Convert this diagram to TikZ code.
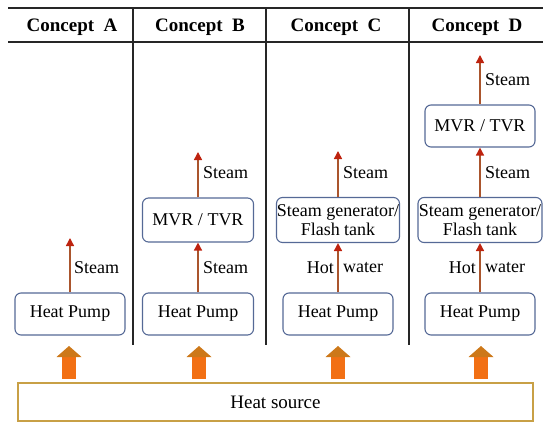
\documentclass[tikz,border=0pt]{standalone}
\usepackage{fontspec}
\setmainfont{Liberation Serif}
\usetikzlibrary{arrows.meta}
\definecolor{boxblue}{RGB}{85,105,150}
\definecolor{shaftbrown}{RGB}{170,85,45}
\definecolor{headred}{RGB}{190,35,15}
\definecolor{hsorange}{RGB}{242,112,20}
\definecolor{hshead}{RGB}{205,120,25}
\definecolor{gold}{RGB}{200,160,70}
\begin{document}
\begin{tikzpicture}[x=1pt,y=-1pt,
  unitbox/.style={draw=boxblue,line width=1.1pt,rounded corners=6pt,fill=white,
    align=center,font=\fontsize{18}{19}\selectfont,inner sep=0pt},
  flow/.style={draw=shaftbrown,line width=1.5pt,
    -{Triangle[width=8pt,length=8pt,fill=headred,color=headred]}},
  lbl/.style={font=\fontsize{18}{19}\selectfont,inner sep=0pt},
  hdr/.style={font=\fontsize{19}{21}\selectfont\bfseries,inner sep=0pt},
  grid/.style={draw=black!85,line width=1.2pt}]
\useasboundingbox (0,0) rectangle (550,424);
% table lines
\coordinate (tl) at (8,8);
\coordinate (tr) at (543,8);
\coordinate (hl) at (8,42);
\coordinate (hr) at (543,42);
\draw[grid] (tl) -- (tr);
\draw[grid] (hl) -- (hr);
\coordinate (v1t) at (133,8); \coordinate (v1b) at (133,345);
\coordinate (v2t) at (266,8); \coordinate (v2b) at (266,345);
\coordinate (v3t) at (409,8); \coordinate (v3b) at (409,345);
\draw[grid] (v1t) -- (v1b);
\draw[grid] (v2t) -- (v2b);
\draw[grid] (v3t) -- (v3b);
% headers
\node[hdr] (hA) at (72,27) {Concept\ \ A};
\node[hdr] (hB) at (200,27) {Concept\ \ B};
\node[hdr] (hC) at (336,27) {Concept\ \ C};
\node[hdr] (hD) at (477,27) {Concept\ \ D};
% boxes
\node[unitbox,minimum width=110pt,minimum height=42pt] (hpA) at (70,314) {Heat Pump};
\node[unitbox,minimum width=111pt,minimum height=42pt] (hpB) at (198,314) {Heat Pump};
\node[unitbox,minimum width=110pt,minimum height=42pt] (hpC) at (338,314) {Heat Pump};
\node[unitbox,minimum width=110pt,minimum height=42pt] (hpD) at (480,314) {Heat Pump};
\node[unitbox,minimum width=111pt,minimum height=44pt] (mvrB) at (198,220) {MVR / TVR};
\node[unitbox,minimum width=123pt,minimum height=45pt,font=\fontsize{18}{19}\selectfont] (sgC) at (338,220) {Steam generator/\\Flash tank};
\node[unitbox,minimum width=124pt,minimum height=45pt,font=\fontsize{18}{19}\selectfont] (sgD) at (480,220) {Steam generator/\\Flash tank};
\node[unitbox,minimum width=110pt,minimum height=42pt] (mvrD) at (480,126) {MVR / TVR};
% free ends
\coordinate (endA) at (70,238);
\coordinate (endB) at (198,152);
\coordinate (endC) at (338,151);
\coordinate (endD) at (480,55);
% flows
\draw[flow] (hpA.north) -- (endA);
\draw[flow] (hpB.north) -- (mvrB.south);
\draw[flow] (mvrB.north) -- (endB);
\draw[flow] (hpC.north) -- (sgC.south);
\draw[flow] (sgC.north) -- (endC);
\draw[flow] (hpD.north) -- (sgD.south);
\draw[flow] (sgD.north) -- (mvrD.south);
\draw[flow] (mvrD.north) -- (endD);
% labels
\node[lbl,anchor=west] (sA) at (74,268) {Steam};
\node[lbl,anchor=west] (sB1) at (203,268) {Steam};
\node[lbl,anchor=west] (sB2) at (203,173) {Steam};
\node[lbl,anchor=east] (hotC) at (334,268) {Hot};
\node[lbl,anchor=west] (watC) at (343,268) {water};
\node[lbl,anchor=west] (sC) at (343,173) {Steam};
\node[lbl,anchor=east] (hotD) at (476,268) {Hot};
\node[lbl,anchor=west] (watD) at (485,268) {water};
\node[lbl,anchor=west] (sD1) at (485,173) {Steam};
\node[lbl,anchor=west] (sD2) at (485,80) {Steam};
% heat source
\node[draw=gold,line width=1.5pt,minimum width=515pt,minimum height=38pt,inner sep=0pt,
  font=\fontsize{19}{21}\selectfont] (hs) at (275.5,402) {Heat source};
% orange arrows
\foreach \n/\x in {1/69,2/199,3/338,4/481}{
  \coordinate (oa\n) at (\x,379);
  \fill[hsorange] ([xshift=-7pt]oa\n) rectangle ([xshift=7pt,yshift=23pt]oa\n);
  \fill[hshead] ([xshift=-12.5pt,yshift=22pt]oa\n) -- ([yshift=33pt]oa\n) -- ([xshift=12.5pt,yshift=22pt]oa\n) -- cycle;
}
\end{tikzpicture}
\end{document}
